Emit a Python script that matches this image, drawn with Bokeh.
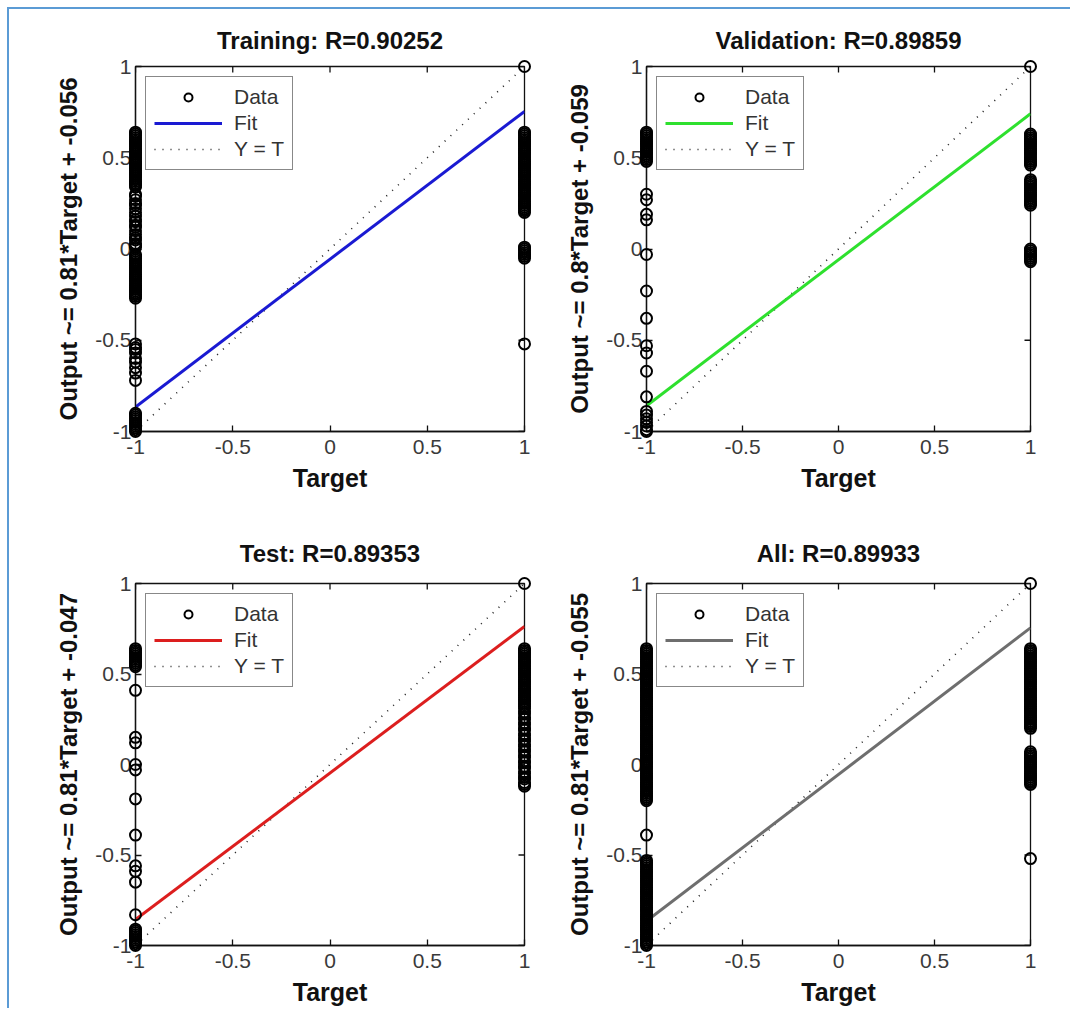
import math
from bokeh.plotting import figure
from bokeh.layouts import column, row
from bokeh.models import FixedTicker, Range1d, Legend, LegendItem
from bokeh.embed import file_html
from bokeh.resources import INLINE

# ---------------- data ----------------
titles = ["Training: R=0.90252", "Validation: R=0.89859", "Test: R=0.89353", "All: R=0.89933"]
ylabels = ["Output ~= 0.81*Target + -0.056", "Output ~= 0.8*Target + -0.059",
           "Output ~= 0.81*Target + -0.047", "Output ~= 0.81*Target + -0.055"]
xlabel = "Target"
fit_slope = [0.81, 0.80, 0.81, 0.81]
fit_intercept = [-0.056, -0.059, -0.047, -0.055]
fit_colors = ["#1a1ad2", "#2ee02e", "#dc1e1e", "#6e6e6e"]
targets = [-1, 1]
tick_values = [-1, -0.5, 0, 0.5, 1]
tick_labels = ["-1", "-0.5", "0", "0.5", "1"]
legend_labels = ["Data", "Fit", "Y = T"]

# outputs for samples whose target is -1 / +1
train_neg = [0.64, 0.63, 0.62, 0.61, 0.60, 0.59, 0.58, 0.57, 0.56, 0.55, 0.54, 0.53, 0.52, 0.51,
             0.50, 0.49, 0.48, 0.47, 0.46, 0.45, 0.44, 0.43, 0.42, 0.41, 0.40, 0.39, 0.38, 0.37,
             0.36, 0.35, 0.34,
             0.30, 0.29, 0.27, 0.25, 0.24, 0.22, 0.20, 0.18, 0.16, 0.15, 0.13, 0.12, 0.10, 0.08,
             0.06, 0.05, 0.03, 0.02, 0.01,
             -0.03, -0.04, -0.05, -0.06, -0.07, -0.08, -0.09, -0.10, -0.11, -0.12, -0.13, -0.14,
             -0.15, -0.16, -0.17, -0.18, -0.19, -0.20, -0.21, -0.22, -0.23, -0.24, -0.25, -0.26,
             -0.27,
             -0.52, -0.54, -0.55, -0.57, -0.60, -0.62, -0.65, -0.68, -0.72,
             -0.90, -0.91, -0.92, -0.93, -0.94, -0.95, -0.96, -0.97, -0.98, -0.99, -1.0]
train_pos = [1.0,
             0.64, 0.63, 0.62, 0.61, 0.60, 0.59, 0.58, 0.57, 0.56, 0.55, 0.54, 0.53, 0.52, 0.51,
             0.50, 0.49, 0.48, 0.47, 0.46, 0.45, 0.44, 0.43, 0.42, 0.41, 0.40, 0.39, 0.38, 0.37,
             0.36, 0.35, 0.34, 0.33, 0.32, 0.31, 0.30, 0.29, 0.28, 0.27, 0.26, 0.25, 0.24, 0.23,
             0.22, 0.21, 0.20,
             0.01, 0.0, -0.01, -0.02, -0.03, -0.04, -0.05,
             -0.52]
val_neg = [0.64, 0.63, 0.62, 0.61, 0.60, 0.59, 0.58, 0.57, 0.56, 0.55, 0.54, 0.53, 0.52, 0.51,
           0.50, 0.49, 0.48,
           0.30, 0.27, 0.19, 0.16, -0.03, -0.23, -0.38, -0.53, -0.57, -0.67, -0.81,
           -0.89, -0.91, -0.93, -0.95, -0.97, -0.99, -1.0]
val_pos = [1.0,
           0.63, 0.62, 0.61, 0.60, 0.59, 0.58, 0.57, 0.56, 0.55, 0.54, 0.53, 0.52, 0.51, 0.50,
           0.49, 0.48, 0.47, 0.46,
           0.38, 0.37, 0.36, 0.35, 0.34, 0.33, 0.32, 0.31, 0.30, 0.29, 0.28, 0.27, 0.26, 0.25, 0.24,
           0.00, -0.01, -0.02, -0.03, -0.04, -0.05, -0.06, -0.07]
test_neg = [0.64, 0.63, 0.62, 0.61, 0.60, 0.59, 0.58, 0.57, 0.56, 0.55, 0.54,
            0.41, 0.15, 0.12, 0.0, -0.03, -0.19, -0.39, -0.56, -0.59, -0.65, -0.83,
            -0.91, -0.92, -0.93, -0.94, -0.95, -0.96, -0.97, -0.98, -0.99, -1.0]
test_pos = [1.0,
            0.64, 0.63, 0.62, 0.61, 0.60, 0.59, 0.58, 0.57, 0.56, 0.55, 0.54, 0.53, 0.52, 0.51,
            0.50, 0.49, 0.48, 0.47, 0.46, 0.45, 0.44, 0.43, 0.42, 0.41, 0.40, 0.39, 0.38, 0.37,
            0.36, 0.35, 0.34, 0.33, 0.32,
            0.31, 0.29, 0.28, 0.26, 0.25, 0.23, 0.22, 0.20, 0.19, 0.17, 0.16, 0.14, 0.13, 0.11,
            0.10, 0.08, 0.07, 0.05, 0.04, 0.02, 0.01, -0.01, -0.02, -0.04, -0.05, -0.07, -0.08,
            -0.10, -0.11, -0.12]
all_neg = [0.64, 0.63, 0.62, 0.61, 0.60, 0.59, 0.58, 0.57, 0.56, 0.55, 0.54, 0.53, 0.52, 0.51,
           0.50, 0.49, 0.48, 0.47, 0.46, 0.45, 0.44, 0.43, 0.42, 0.41, 0.40, 0.39, 0.38, 0.37,
           0.36, 0.35, 0.34, 0.33, 0.32, 0.31, 0.30, 0.29, 0.28, 0.27, 0.26, 0.25, 0.24, 0.23,
           0.22, 0.21, 0.20, 0.19, 0.18, 0.17, 0.16, 0.15, 0.14, 0.13, 0.12, 0.11, 0.10, 0.09,
           0.08, 0.07, 0.06, 0.05, 0.04, 0.03, 0.02, 0.01, 0.00, -0.01, -0.02, -0.03, -0.04,
           -0.05, -0.06, -0.07, -0.08, -0.09, -0.10, -0.11, -0.12, -0.13, -0.14, -0.15, -0.16,
           -0.17, -0.18, -0.19, -0.20,
           -0.39,
           -0.53, -0.54, -0.55, -0.56, -0.57, -0.58, -0.59, -0.60, -0.61, -0.62, -0.63, -0.64,
           -0.65, -0.66, -0.67, -0.68, -0.69, -0.70, -0.71, -0.72, -0.73, -0.74, -0.75, -0.76,
           -0.77, -0.78, -0.79, -0.80, -0.81, -0.82, -0.83, -0.84, -0.85, -0.86, -0.87, -0.88,
           -0.89, -0.90, -0.91, -0.92, -0.93, -0.94, -0.95, -0.96, -0.97, -0.98, -0.99, -1.0]
all_pos = [1.0,
           0.64, 0.63, 0.62, 0.61, 0.60, 0.59, 0.58, 0.57, 0.56, 0.55, 0.54, 0.53, 0.52, 0.51,
           0.50, 0.49, 0.48, 0.47, 0.46, 0.45, 0.44, 0.43, 0.42, 0.41, 0.40, 0.39, 0.38, 0.37,
           0.36, 0.35, 0.34, 0.33, 0.32, 0.31, 0.30, 0.29, 0.28, 0.27, 0.26, 0.25, 0.24, 0.23,
           0.22, 0.21, 0.20,
           0.07, 0.06, 0.05, 0.04, 0.03, 0.02, 0.01, 0.00, -0.01, -0.02, -0.03, -0.04, -0.05,
           -0.06, -0.07, -0.08, -0.09, -0.10, -0.11,
           -0.52]

series_neg = [train_neg, val_neg, test_neg, all_neg]
series_pos = [train_pos, val_pos, test_pos, all_pos]

FONT = "Liberation Sans"
AX = "#111111"


def style_axis(ax):
    ax.ticker = FixedTicker(ticks=tick_values)
    ax.major_label_overrides = dict(zip(tick_values, tick_labels))
    ax.major_tick_in = 6
    ax.major_tick_out = 0
    ax.minor_tick_line_color = None
    ax.axis_line_color = AX
    ax.axis_line_width = 1.3
    ax.major_tick_line_color = AX
    ax.major_tick_line_width = 1.3
    ax.major_label_text_font = FONT
    ax.major_label_text_color = "#3a3a3a"
    ax.major_label_text_font_size = "21px"
    ax.axis_label_text_font = FONT
    ax.axis_label_text_font_style = "bold"
    ax.axis_label_text_color = AX


def make_panel(i, width, height, mbl, mbr, mbt, mbb, title_standoff):
    p = figure(width=width, height=height, output_backend="svg", toolbar_location=None,
               x_range=Range1d(-1, 1), y_range=Range1d(-1, 1),
               min_border_left=mbl, min_border_right=mbr,
               min_border_top=mbt, min_border_bottom=mbb,
               title=titles[i])
    p.background_fill_color = "white"
    p.border_fill_color = "white"
    p.outline_line_color = AX
    p.outline_line_width = 1.3
    p.grid.visible = False

    p.title.text_font = FONT
    p.title.text_font_size = "24px"
    p.title.text_font_style = "bold"
    p.title.text_color = AX
    p.title.align = "center"
    p.title.standoff = title_standoff

    style_axis(p.xaxis[0])
    style_axis(p.yaxis[0])
    p.xaxis[0].major_label_standoff = 8
    p.yaxis[0].major_label_standoff = 4
    p.xaxis[0].axis_label = xlabel
    p.xaxis[0].axis_label_text_font_size = "25px"
    p.xaxis[0].axis_label_standoff = 7
    p.yaxis[0].axis_label = ylabels[i]
    p.yaxis[0].axis_label_text_font_size = "24px"
    p.yaxis[0].axis_label_standoff = 10

    # mirrored inward ticks on the top and right edges (clipped to the frame)
    p.scatter(tick_values, [targets[1]] * len(tick_values), marker="dash", angle=math.pi / 2,
              size=12, line_color=AX, line_width=1.3)
    p.scatter([targets[1]] * len(tick_values), tick_values, marker="dash",
              size=12, line_color=AX, line_width=1.3)

    neg = series_neg[i]
    pos = series_pos[i]
    xs = [targets[0]] * len(neg) + [targets[1]] * len(pos)
    ys = list(neg) + list(pos)

    # Y = T
    r_id = p.line(targets, targets, line_color="#222222", line_width=1.6, line_dash="1 7")
    # Fit
    fit_y = [fit_slope[i] * t + fit_intercept[i] for t in targets]
    r_fit = p.line(targets, fit_y, line_color=fit_colors[i], line_width=3)
    # Data
    r_data = p.scatter(xs, ys, marker="circle", size=11, fill_color=None,
                       line_color="black", line_width=2, level="overlay")

    legend = Legend(items=[LegendItem(label=legend_labels[0], renderers=[r_data]),
                           LegendItem(label=legend_labels[1], renderers=[r_fit]),
                           LegendItem(label=legend_labels[2], renderers=[r_id])],
                    location="top_left", margin=10, padding=8, spacing=2,
                    glyph_width=68, glyph_height=20, label_height=20,
                    label_standoff=12, label_text_font=FONT, label_text_font_size="21px",
                    label_text_color="#333333", border_line_color=AX,
                    border_line_width=1.2, background_fill_color="white",
                    background_fill_alpha=1.0)
    p.add_layout(legend)
    return p


p1 = make_panel(0, 539, 501, 126, 24, 57, 79, 26)
p2 = make_panel(1, 522, 501, 98, 40, 57, 79, 26)
p3 = make_panel(2, 539, 498, 126, 24, 73, 61, 34)
p4 = make_panel(3, 522, 498, 98, 40, 73, 61, 34)

layout = column(row(p1, p2), row(p3, p4), margin=(7, 0, 0, 7),
                styles={"border-top": "2px solid #5b9bd5", "border-left": "2px solid #5b9bd5"})

open("out.html", "w").write(file_html(layout, INLINE))
